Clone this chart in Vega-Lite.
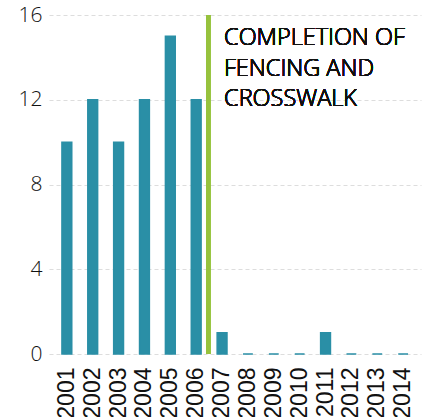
{
  "$schema": "https://vega.github.io/schema/vega-lite/v6.json",
  "width": 372,
  "height": 339,
  "autosize": {"type": "none"},
  "padding": {"left": 49, "top": 15, "right": 2, "bottom": 63},
  "background": "white",
  "config": {
    "view": {"stroke": null},
    "font": "Open Sans"
  },
  "data": {
    "values": [
      {"year": "2001", "count": 10},
      {"year": "2002", "count": 12},
      {"year": "2003", "count": 10},
      {"year": "2004", "count": 12},
      {"year": "2005", "count": 15},
      {"year": "2006", "count": 12},
      {"year": "2007", "count": 1},
      {"year": "2008", "count": 0},
      {"year": "2009", "count": 0},
      {"year": "2010", "count": 0},
      {"year": "2011", "count": 1},
      {"year": "2012", "count": 0},
      {"year": "2013", "count": 0},
      {"year": "2014", "count": 0}
    ]
  },
  "layer": [
    {
      "mark": {"type": "bar", "color": "#2a8fa6", "stroke": "#2a8fa6", "strokeWidth": 1.5},
      "encoding": {
        "x": {
          "field": "year",
          "type": "ordinal",
          "scale": {"paddingInner": 0.62, "paddingOuter": 0.5},
          "axis": {
            "title": null,
            "labelAngle": -90,
            "labelFont": "Liberation Sans",
            "labelFontSize": 23,
            "labelColor": "#111",
            "labelPadding": 13,
            "ticks": false,
            "domain": false,
            "grid": false
          }
        },
        "y": {
          "field": "count",
          "type": "quantitative",
          "scale": {"domain": [0, 16], "nice": false},
          "axis": {
            "title": null,
            "values": [0, 4, 8, 12, 16],
            "labelFontSize": 21,
            "labelFontWeight": 300,
            "labelColor": "#111",
            "labelPadding": 7,
            "ticks": false,
            "domain": false,
            "grid": true,
            "gridColor": "#dddddd",
            "gridDash": [4, 3],
            "gridWidth": 1.2
          }
        }
      }
    },
    {
      "mark": {"type": "rule", "color": "#97c23d", "strokeWidth": 4},
      "encoding": {
        "x": {"datum": "2006", "type": "ordinal", "bandPosition": 1.72},
        "y": {"datum": 16, "type": "quantitative"},
        "y2": {"datum": 0}
      }
    },
    {
      "mark": {"type": "text", "align": "left", "baseline": "top", "fontSize": 23.5, "fontWeight": 300, "lineHeight": 30.5, "color": "#111", "dx": 2, "dy": 11},
      "encoding": {
        "x": {"datum": "2007", "type": "ordinal"},
        "y": {"datum": 16, "type": "quantitative"},
        "text": {"value": ["COMPLETION OF", "FENCING AND", "CROSSWALK"]}
      }
    }
  ]
}
